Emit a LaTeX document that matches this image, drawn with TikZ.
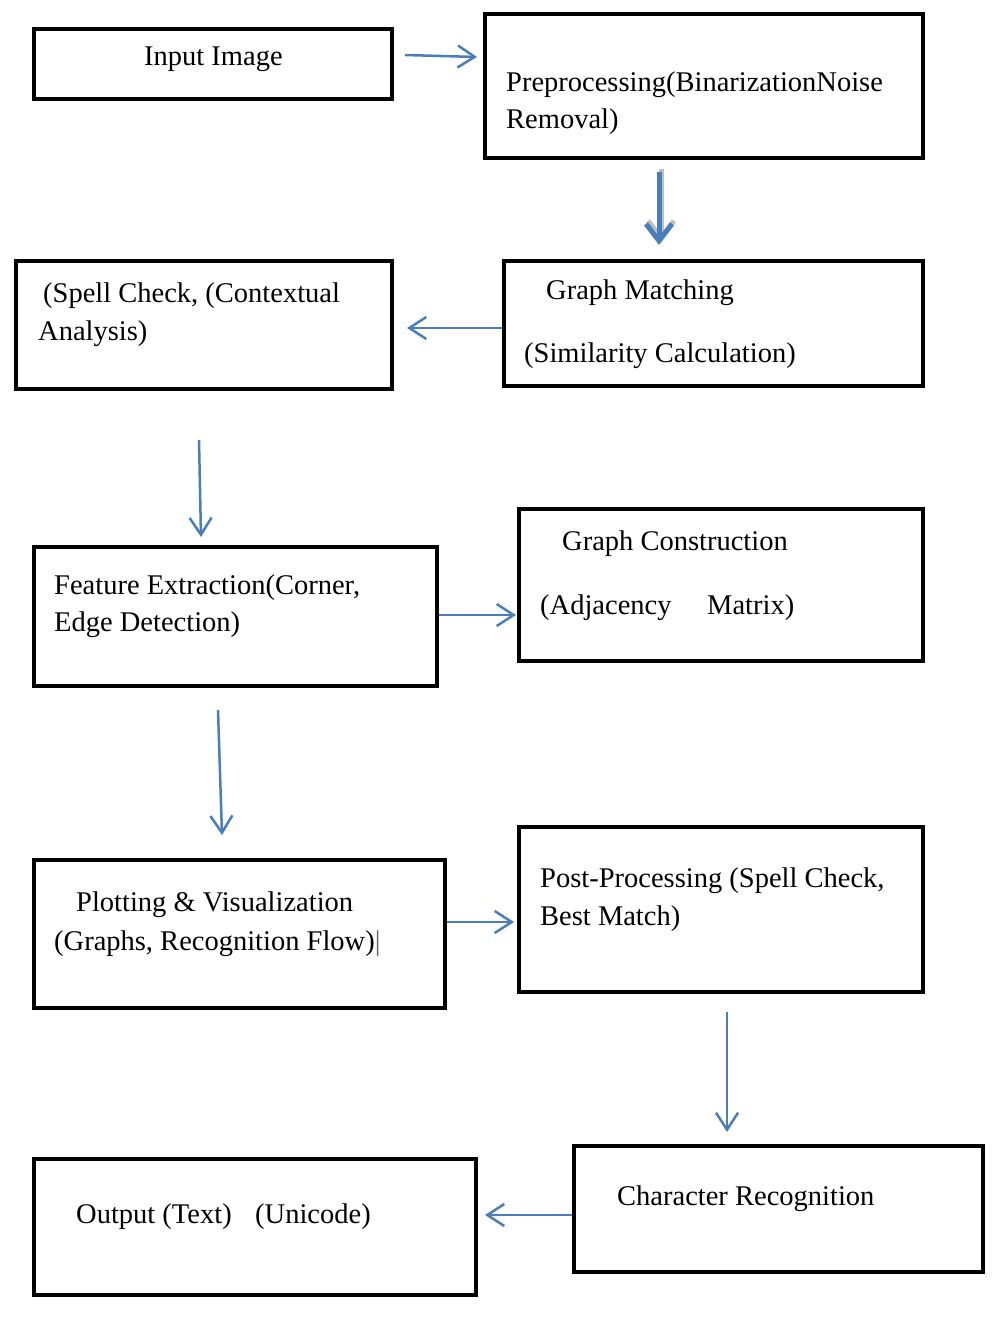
\documentclass[tikz,border=0pt]{standalone}
\usepackage{fontspec}
\setmainfont{Liberation Serif}
\usetikzlibrary{arrows.meta}
\definecolor{arrblue}{HTML}{4A7EBB}
\begin{document}
\begin{tikzpicture}[x=1pt,y=-1pt,
  box/.style={draw=black,line width=4.5pt},
  txt/.style={anchor=base west,inner sep=0pt,font=\fontsize{28.5}{34}\selectfont},
  flow/.style={draw=arrblue,line width=2.5pt,-{Straight Barb[length=17pt,width=22pt,line width=2.5pt]}},
  thickflow/.style={draw=arrblue,line width=5pt,-{Straight Barb[length=17pt,width=26pt,line width=5pt]}}]
\useasboundingbox (0,0) rectangle (1000,1322);
% boxes
\draw[box] (34,29) rectangle (392,99);
\draw[box] (485,14) rectangle (923,158);
\draw[box] (16,261) rectangle (392,389);
\draw[box] (504,261) rectangle (923,386);
\draw[box] (34,547) rectangle (437,686);
\draw[box] (519,509) rectangle (923,661);
\draw[box] (34,860) rectangle (445,1008);
\draw[box] (519,827) rectangle (923,992);
\draw[box] (34,1159) rectangle (476,1295);
\draw[box] (574,1146) rectangle (983,1272);
% texts
\node[txt] (t1) at (144,66) {Input Image};
\node[txt] (t2a) at (506,91) {Preprocessing(BinarizationNoise};
\node[txt] (t2b) at (506,128) {Removal)};
\node[txt] (t3a) at (43,302) {(Spell Check, (Contextual};
\node[txt] (t3b) at (38,340) {Analysis)};
\node[txt] (t4a) at (546,299) {Graph Matching};
\node[txt] (t4b) at (524,362) {(Similarity Calculation)};
\node[txt] (t5a) at (54,594) {Feature Extraction(Corner,};
\node[txt] (t5b) at (54,631) {Edge Detection)};
\node[txt] (t6a) at (562,550) {Graph Construction};
\node[txt] (t6b) at (540,614) {(Adjacency};
\node[txt] (t6c) at (707,614) {Matrix)};
\node[txt] (t7a) at (76,911) {Plotting \& Visualization};
\node[txt] (t7b) at (54,950) {(Graphs, Recognition Flow)\textcolor{black!60}{|}};
\node[txt] (t8a) at (540,887) {Post-Processing (Spell Check,};
\node[txt] (t8b) at (540,925) {Best Match)};
\node[txt] (t9a) at (76,1223) {Output (Text)};
\node[txt] (t9b) at (255,1223) {(Unicode)};
\node[txt] (t10) at (617,1205) {Character Recognition};
% arrow endpoints
\coordinate (a1) at (405,55); \coordinate (b1) at (477,57);
\coordinate (a2) at (659,172); \coordinate (b2) at (659,245);
\coordinate (a3) at (502,328); \coordinate (b3) at (407,328);
\coordinate (a4) at (199,440); \coordinate (b4) at (201,537);
\coordinate (a5) at (439,615); \coordinate (b5) at (516,615);
\coordinate (a6) at (218,710); \coordinate (b6) at (222,835);
\coordinate (a7) at (447,922); \coordinate (b7) at (514,922);
\coordinate (a8) at (727,1012); \coordinate (b8) at (727,1132);
\coordinate (a9) at (572,1215); \coordinate (b9) at (485,1215);
\draw[flow] (a1) -- (b1);
\draw[black!25,line width=5pt,-{Straight Barb[length=17pt,width=26pt,line width=5pt]}] ([xshift=2pt,yshift=3pt]a2) -- ([xshift=2pt,yshift=3pt]b2);
\draw[thickflow] (a2) -- (b2);
\draw[flow] (a3) -- (b3);
\draw[flow] (a4) -- (b4);
\draw[flow] (a5) -- (b5);
\draw[flow] (a6) -- (b6);
\draw[flow] (a7) -- (b7);
\draw[flow] (a8) -- (b8);
\draw[flow] (a9) -- (b9);
\end{tikzpicture}
\end{document}
